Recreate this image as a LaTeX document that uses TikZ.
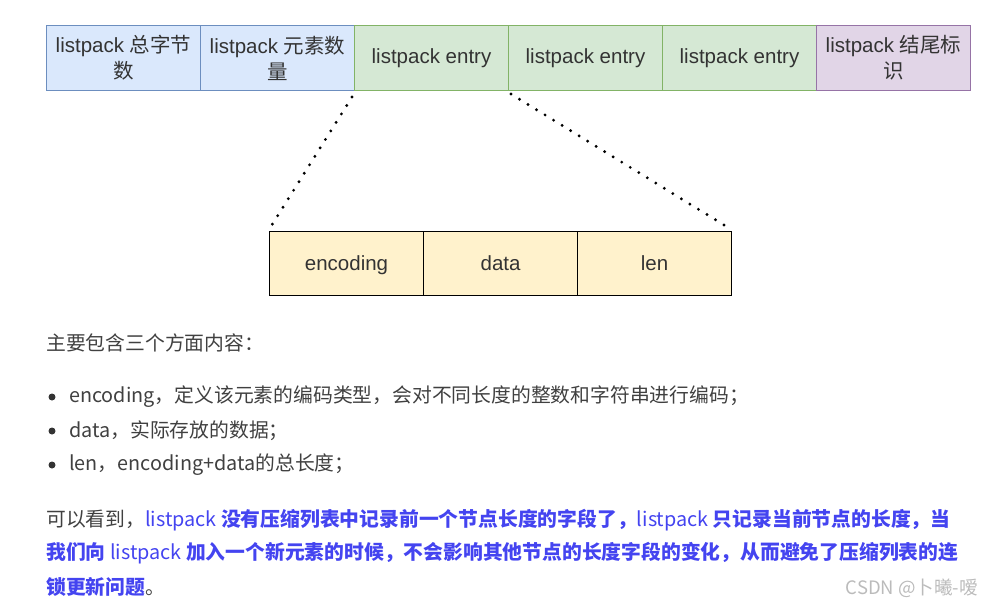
\documentclass[tikz,border=0pt]{standalone}
\usepackage{fontspec}
\setmainfont{Liberation Sans}
\newfontfamily\cjk{Noto Sans CJK SC}
\usetikzlibrary{calc}
\definecolor{bluefill}{HTML}{DAE8FC}
\definecolor{blueline}{HTML}{6C8EBF}
\definecolor{greenfill}{HTML}{D5E8D4}
\definecolor{greenline}{HTML}{82B366}
\definecolor{purplefill}{HTML}{E1D5E7}
\definecolor{purpleline}{HTML}{9673A6}
\definecolor{yellowfill}{HTML}{FFF2CC}
\definecolor{txt}{HTML}{333333}
\definecolor{bodytxt}{HTML}{404040}
\definecolor{hl}{RGB}{68,68,240}
\definecolor{wm}{HTML}{BBBBBB}
\tikzset{
  cell/.style={draw, line width=1pt, minimum width=154pt, minimum height=65pt, inner sep=0pt,
    font=\fontsize{20.5}{26}\selectfont, text=txt, align=center, anchor=north west},
  bluecell/.style={cell, fill=bluefill, draw=blueline},
  greencell/.style={cell, fill=greenfill, draw=greenline},
  purplecell/.style={cell, fill=purplefill, draw=purpleline},
  yellowcell/.style={cell, fill=yellowfill, draw=black, minimum height=64pt, line width=1.1pt,
    text height=17pt, text depth=3pt},
  dotline/.style={line width=3.2pt, line cap=round, dash pattern=on 0pt off 10pt},
  bodyline/.style={anchor=west, inner sep=0pt, font=\cjk\fontsize{19.8}{24}\selectfont, text=bodytxt},
  bulletdot/.style={circle, fill=txt, inner sep=0pt, minimum size=7pt},
}
\newcommand{\hlb}[1]{{\color{hl}\bfseries #1}}
\newcommand{\hlr}[1]{{\color{hl}#1}}
\begin{document}
\begin{tikzpicture}[x=1pt,y=-1pt]
\useasboundingbox (0,0) rectangle (982,606);
% top row
\node[bluecell] (t1) at (46,25) {listpack {\cjk 总字节}\\{\cjk 数}};
\node[bluecell] (t2) at (200,25) {listpack {\cjk 元素数}\\{\cjk 量}};
\node[greencell] (t3) at (354,25) {listpack entry};
\node[greencell] (t4) at (508,25) {listpack entry};
\node[greencell] (t5) at (662,25) {listpack entry};
\node[purplecell] (t6) at (816,25) {listpack {\cjk 结尾标}\\{\cjk 识}};
% bottom row
\node[yellowcell] (b1) at (269,231) {encoding};
\node[yellowcell] (b2) at (423,231) {data};
\node[yellowcell] (b3) at (577,231) {len};
% dotted connectors
\coordinate (l1) at ($(t3.south west)+(-2,6)$);
\coordinate (l2) at ($(b1.north west)+(1,-3)$);
\coordinate (r1) at ($(t4.south west)+(3,3)$);
\coordinate (r2) at ($(b3.north east)+(0,-1)$);
\draw[dotline] (l1) -- (l2);
\draw[dotline] (r1) -- (r2);
% body text
\node[bodyline] (p0) at (46,343) {主要包含三个方面内容：};
\node[bulletdot] (d1) at (52,397) {};
\node[bulletdot] (d2) at (52,431) {};
\node[bulletdot] (d3) at (52,465) {};
\node[bodyline] (i1) at (69,397) {encoding，定义该元素的编码类型，会对不同长度的整数和字符串进行编码；};
\node[bodyline] (i2) at (69,431) {data，实际存放的数据；};
\node[bodyline] (i3) at (69,465) {len，encoding+data的总长度；};
\node[bodyline] (q1) at (46,520) {可以看到，\hlr{listpack }\hlb{没有压缩列表中记录前一个节点长度的字段了，}\hlr{listpack }\hlb{只记录当前节点的长度，当}};
\node[bodyline] (q2) at (46,553) {\hlb{我们向 }\hlr{listpack }\hlb{加入一个新元素的时候，不会影响其他节点的长度字段的变化，从而避免了压缩列表的连}};
\node[bodyline] (q3) at (46,587) {\hlb{锁更新问题}。};
\node[anchor=east, inner sep=0pt, font=\cjk\fontsize{18.5}{22}\selectfont, text=wm] (w) at (978,588) {CSDN @卜曦-嗳};
\end{tikzpicture}
\end{document}
